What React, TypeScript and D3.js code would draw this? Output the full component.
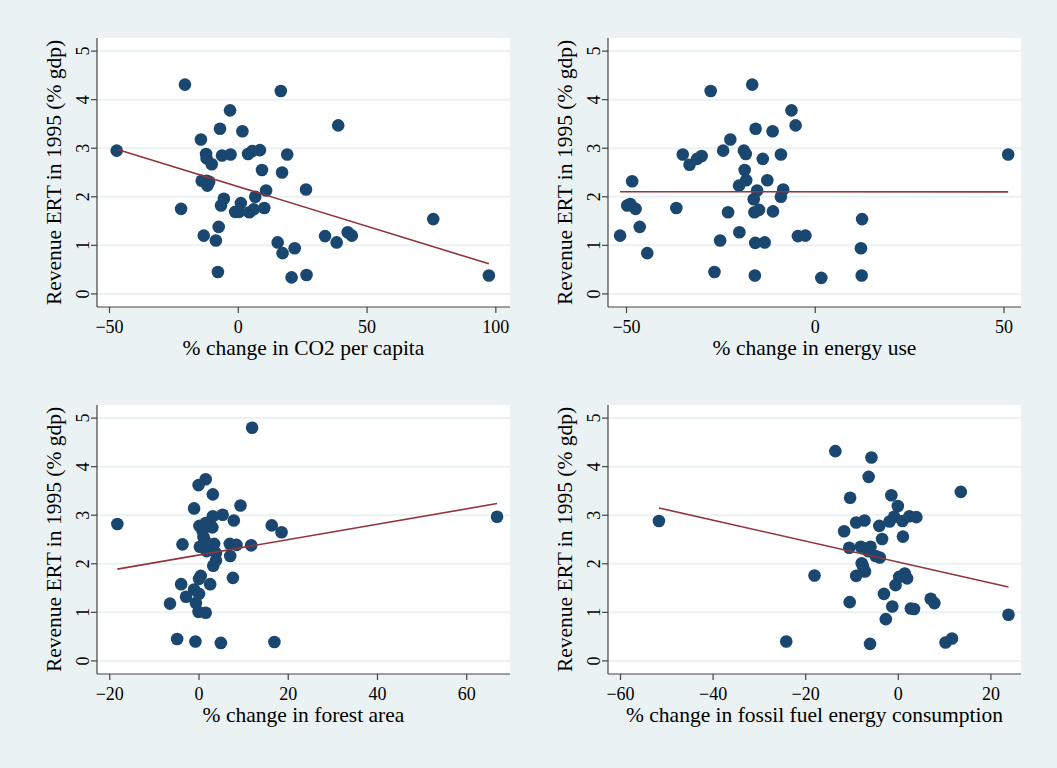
import React from 'react'
import * as d3 from 'd3'

// Revenue ERT in 1995 (% gdp) against four % changes
const co2X = [-47.2, -20.7, 16.5, -3.2, -7.1, 1.6, -14.5, -12.5, -12.3, -10.3, -6.3, -3.0, 3.8, 5.4, 8.4, 19.0, 9.2, 17.0, -14.2, -12.3, -11.3, -12.0, 26.3, 10.8, 6.6, -5.6, -6.7, 1.0, -1.2, 0.3, 4.3, 6.0, 10.1, -22.2, -7.6, -13.4, -8.7, 15.3, 17.2, 21.9, -7.9, 20.7, 26.5, 38.8, 33.7, 38.2, 42.5, 44.1, 75.7, 97.3]
const co2Y = [2.95, 4.31, 4.18, 3.78, 3.40, 3.35, 3.18, 2.88, 2.79, 2.67, 2.85, 2.87, 2.88, 2.94, 2.96, 2.87, 2.55, 2.50, 2.33, 2.33, 2.31, 2.23, 2.15, 2.13, 2.00, 1.96, 1.82, 1.87, 1.69, 1.69, 1.68, 1.74, 1.77, 1.75, 1.38, 1.20, 1.10, 1.06, 0.84, 0.94, 0.45, 0.34, 0.39, 3.47, 1.19, 1.06, 1.27, 1.20, 1.54, 0.38]
const co2Fit = [[-47.2, 2.98], [97.3, 0.62]]

const energyX = [-51.7, -49.8, -49.0, -47.6, -48.5, -46.5, -44.5, -36.8, -35.1, -33.3, -31.3, -30.1, -27.7, -26.7, -25.2, -24.4, -23.1, -22.5, -20.1, -20.2, -18.9, -18.4, -18.7, -18.3, -16.7, -15.8, -16.3, -16.1, -14.9, -15.4, -15.9, -13.4, -16.0, -13.9, -12.7, -11.3, -11.2, -9.1, -8.5, -9.1, -6.3, -5.2, -4.6, -2.6, 1.6, 12.4, 12.1, 12.3, 51.1]
const energyY = [1.20, 1.82, 1.85, 1.75, 2.32, 1.38, 0.84, 1.77, 2.87, 2.66, 2.78, 2.84, 4.18, 0.45, 1.10, 2.95, 1.68, 3.18, 1.27, 2.23, 2.95, 2.88, 2.55, 2.34, 4.31, 3.40, 1.95, 1.68, 1.73, 2.13, 1.05, 1.06, 0.38, 2.78, 2.34, 3.35, 1.70, 2.87, 2.15, 2.00, 3.78, 3.47, 1.19, 1.20, 0.33, 1.54, 0.94, 0.38, 2.87]
const energyFit = [[-51.7, 2.105], [51.1, 2.10]]

const forestX = [-18.3, 11.9, 1.5, -0.1, 3.1, -1.1, 9.3, 5.3, 3.1, 7.8, 0.1, 1.5, 0.8, 3.0, 16.3, 18.5, 1.0, 1.3, -3.7, 0.2, 1.7, 3.4, 6.9, 8.4, 11.7, 3.8, 7.0, 3.8, 3.2, 0.4, 0.0, 7.6, -4.0, 2.5, -1.1, 0.0, -2.9, -0.7, -6.5, -0.1, 1.5, -4.9, -0.8, 4.9, 16.9, 66.8]
const forestY = [2.82, 4.80, 3.74, 3.62, 3.43, 3.14, 3.20, 3.01, 2.98, 2.89, 2.78, 2.84, 2.68, 2.75, 2.79, 2.65, 2.55, 2.48, 2.40, 2.35, 2.26, 2.41, 2.41, 2.39, 2.38, 2.22, 2.16, 2.07, 1.96, 1.75, 1.69, 1.71, 1.58, 1.58, 1.47, 1.38, 1.32, 1.19, 1.18, 1.01, 0.99, 0.45, 0.40, 0.37, 0.39, 2.97]
const forestFit = [[-18.3, 1.89], [66.8, 3.24]]

const fossilX = [-51.7, -24.2, -18.1, -13.6, -5.8, -6.4, -10.4, -1.5, -0.1, -9.1, -7.3, -11.7, -4.1, -1.9, -0.9, 0.9, 2.4, 3.9, 13.5, -3.5, 1.0, -10.6, -8.1, -6.0, -6.5, -4.9, -4.0, -7.9, -7.6, -7.2, -9.1, 1.4, 0.2, 1.9, -0.6, -3.1, -10.5, -1.3, 2.7, 3.4, 7.0, 7.8, -2.7, 23.8, -6.1, 10.2, 11.6]
const fossilY = [2.88, 0.40, 1.76, 4.32, 4.19, 3.79, 3.36, 3.41, 3.19, 2.85, 2.89, 2.67, 2.78, 2.87, 2.97, 2.88, 2.98, 2.96, 3.48, 2.51, 2.56, 2.33, 2.35, 2.35, 2.26, 2.16, 2.13, 2.01, 1.94, 1.84, 1.75, 1.80, 1.73, 1.70, 1.56, 1.38, 1.21, 1.12, 1.08, 1.07, 1.28, 1.19, 0.86, 0.95, 0.35, 0.38, 0.46]
const fossilFit = [[-51.7, 3.15], [23.8, 1.52]]

const yTicks = [0, 1, 2, 3, 4, 5]
const co2Ticks = [-50, 0, 50, 100]
const energyTicks = [-50, 0, 50]
const forestTicks = [-20, 0, 20, 40, 60]
const fossilTicks = [-60, -40, -20, 0, 20]

const yTitle = 'Revenue ERT in 1995 (% gdp)'

const W = 1057
const H = 768
const BG = '#eaf2f3'
const NAVY = '#1a476f'
const MAROON = '#90353b'
const FONT = '"Liberation Serif", "Times New Roman", serif'

const panels = [
  { xs: co2X, ys: co2Y, fit: co2Fit, ticks: co2Ticks, title: '% change in CO2 per capita', dom: [-54.85, 105.5], l: 97, r: 510, t: 38, b: 307 },
  { xs: energyX, ys: energyY, fit: energyFit, ticks: energyTicks, title: '% change in energy use', dom: [-54.9, 54.5], l: 608, r: 1021, t: 38, b: 307 },
  { xs: forestX, ys: forestY, fit: forestFit, ticks: forestTicks, title: '% change in forest area', dom: [-22.86, 69.7], l: 97, r: 510, t: 405, b: 674 },
  { xs: fossilX, ys: fossilY, fit: fossilFit, ticks: fossilTicks, title: '% change in fossil fuel energy consumption', dom: [-62.7, 26.5], l: 608, r: 1021, t: 405, b: 674 },
]

const Panel = ({ p }) => {
  const x = d3.scaleLinear().domain(p.dom).range([p.l, p.r])
  const y = d3.scaleLinear().domain([-0.27, 5.27]).range([p.b, p.t])
  const line = d3.line().x((d) => x(d[0])).y((d) => y(d[1]))
  const pts = d3.zip(p.xs, p.ys)
  const cx = (p.l + p.r) / 2
  return (
    <g>
      <rect x={p.l} y={p.t} width={p.r - p.l} height={p.b - p.t} fill="#fff" />
      {yTicks.map((t) => (
        <line key={`g${t}`} x1={p.l} x2={p.r} y1={y(t)} y2={y(t)} stroke={BG} strokeWidth={2} />
      ))}
      {pts.map((d, i) => (
        <circle key={i} cx={x(d[0])} cy={y(d[1])} r={6.3} fill={NAVY} />
      ))}
      <path d={line(p.fit)} fill="none" stroke={MAROON} strokeWidth={1.6} />
      <line x1={p.l} x2={p.l} y1={p.t} y2={p.b} stroke="#444" strokeWidth={1.2} />
      <line x1={p.l} x2={p.r} y1={p.b} y2={p.b} stroke="#444" strokeWidth={1.2} />
      {yTicks.map((t) => (
        <g key={`y${t}`}>
          <line x1={p.l - 6} x2={p.l} y1={y(t)} y2={y(t)} stroke="#444" strokeWidth={1.2} />
          <text transform={`translate(${p.l - 8},${y(t)}) rotate(-90)`} textAnchor="middle" fontSize={18} fontFamily={FONT}>{t}</text>
        </g>
      ))}
      {p.ticks.map((t) => (
        <g key={`x${t}`}>
          <line x1={x(t)} x2={x(t)} y1={p.b} y2={p.b + 6} stroke="#444" strokeWidth={1.2} />
          <text x={x(t)} y={p.b + 26} textAnchor="middle" fontSize={18} fontFamily={FONT}>{d3.format('')(t).replace('-', '\u2212')}</text>
        </g>
      ))}
      <text x={cx} y={p.b + 48} textAnchor="middle" fontSize={21.5} fontFamily={FONT}>{p.title}</text>
      <text transform={`translate(${p.l - 36},${(p.t + p.b) / 2}) rotate(-90)`} textAnchor="middle" fontSize={21.5} fontFamily={FONT}>{yTitle}</text>
    </g>
  )
}

export default function App() {
  return (
    <svg width={W} height={H} style={{ position: 'absolute', left: 0, top: 0 }}>
      <rect width={W} height={H} fill={BG} />
      {panels.map((p, i) => <Panel key={i} p={p} />)}
    </svg>
  )
}
